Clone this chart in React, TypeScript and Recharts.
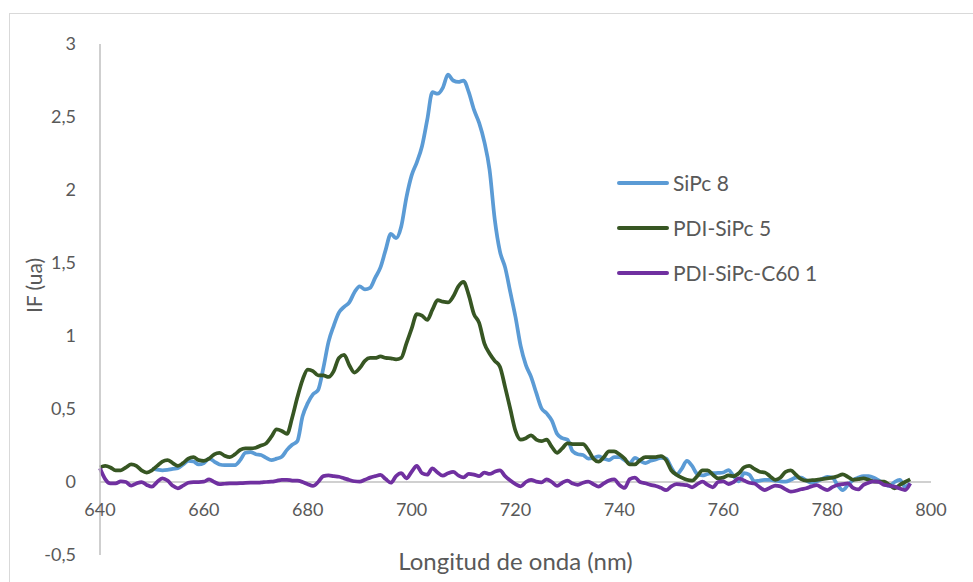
import React from "react";
import {
  LineChart,
  Line,
  XAxis,
  YAxis,
  ReferenceLine,
  Label,
} from "recharts";

const wavelengths = Array.from({ length: 157 }, (_, i) => 640 + i);

// SiPc 8 (starts at 650 nm)
const sipc8: (number | null)[] = [
  null, null, null, null, null, null, null, null, null, null,
  0.09, 0.085, 0.08, 0.083, 0.09, 0.094, 0.12, 0.145, 0.14, 0.12,
  0.13, 0.16, 0.14, 0.12, 0.115, 0.115, 0.116, 0.15, 0.2, 0.205,
  0.19, 0.185, 0.165, 0.15, 0.16, 0.173, 0.22, 0.255, 0.28, 0.45,
  0.54, 0.6, 0.63, 0.78, 0.96, 1.07, 1.16, 1.2, 1.23, 1.3,
  1.34, 1.32, 1.33, 1.4, 1.47, 1.59, 1.7, 1.67, 1.75, 1.95,
  2.1, 2.19, 2.3, 2.48, 2.67, 2.66, 2.7, 2.79, 2.75, 2.74,
  2.75, 2.67, 2.55, 2.46, 2.33, 2.14, 1.8, 1.58, 1.47, 1.3,
  1.13, 0.93, 0.8, 0.72, 0.61, 0.505, 0.47, 0.42, 0.33, 0.3,
  0.29, 0.21, 0.19, 0.185, 0.16, 0.165, 0.175, 0.16, 0.15, 0.17,
  0.17, 0.15, 0.13, 0.165, 0.145, 0.13, 0.145, 0.155, 0.165, 0.16,
  0.1, 0.05, 0.09, 0.145, 0.11, 0.055, 0.045, 0.055, 0.06, 0.062,
  0.065, 0.082, 0.04, 0.005, 0.06, 0.05, 0.005, 0.01, 0.014, 0.014,
  0.01, 0.005, 0.003, 0.015, 0.03, 0.03, 0.01, -0.005, 0.005, 0.02,
  0.035, 0.03, -0.02, -0.055, -0.02, 0.014, 0.03, 0.04, 0.04, 0.03,
  0.01, -0.01, -0.027, 0.0, 0.014, -0.032, -0.01,
];

// PDI-SiPc 5
const pdiSipc5: number[] = [
  0.1, 0.11, 0.1, 0.08, 0.08, 0.1, 0.12, 0.11, 0.08, 0.065,
  0.08, 0.11, 0.14, 0.15, 0.13, 0.11, 0.13, 0.16, 0.17, 0.15,
  0.145, 0.16, 0.19, 0.2, 0.18, 0.17, 0.19, 0.22, 0.23, 0.23,
  0.235, 0.25, 0.265, 0.31, 0.36, 0.35, 0.33, 0.44, 0.58, 0.7,
  0.77, 0.76, 0.73, 0.73, 0.72, 0.76, 0.85, 0.87, 0.8, 0.75,
  0.78, 0.83, 0.85, 0.85, 0.86, 0.85, 0.847, 0.84, 0.85, 0.95,
  1.05, 1.15, 1.14, 1.11, 1.18, 1.245, 1.235, 1.23, 1.27, 1.34,
  1.37, 1.28, 1.15, 1.09, 0.95, 0.88, 0.83, 0.79, 0.65, 0.5,
  0.35, 0.29, 0.3, 0.32, 0.29, 0.28, 0.29, 0.24, 0.2, 0.23,
  0.265, 0.26, 0.26, 0.26, 0.22, 0.16, 0.14, 0.17, 0.21, 0.21,
  0.19, 0.16, 0.12, 0.12, 0.15, 0.17, 0.17, 0.17, 0.178, 0.15,
  0.08, 0.05, 0.03, 0.015, 0.009, 0.04, 0.08, 0.08, 0.05, 0.025,
  0.03, 0.045, 0.04, 0.06, 0.1, 0.11, 0.09, 0.07, 0.065, 0.04,
  0.015, 0.03, 0.07, 0.08, 0.05, 0.02, 0.01, 0.012, 0.015, 0.02,
  0.025, 0.03, 0.04, 0.053, 0.035, 0.015, 0.02, 0.025, 0.015, 0.003,
  0.003, 0.002, -0.02, -0.043, -0.02, 0.0, 0.018,
];

// PDI-SiPc-C60 1
const pdiSipcC60: number[] = [
  0.094, 0.02, -0.01, -0.01, 0.005, 0.0, -0.025, -0.01, 0.0, -0.02,
  -0.032, 0.0, 0.025, 0.01, -0.025, -0.043, -0.025, -0.005, 0.0, 0.0,
  0.002, 0.018, 0.0, -0.014, -0.012, -0.01, -0.009, -0.008, -0.006, -0.005,
  -0.005, -0.003, 0.0, 0.002, 0.008, 0.015, 0.015, 0.01, 0.009, 0.0,
  -0.015, -0.027, 0.0, 0.04, 0.045, 0.04, 0.036, 0.025, 0.014, 0.005,
  0.002, 0.015, 0.03, 0.04, 0.048, 0.02, -0.005, 0.04, 0.06, 0.025,
  0.07, 0.11, 0.06, 0.05, 0.094, 0.065, 0.043, 0.06, 0.07, 0.045,
  0.032, 0.055, 0.05, 0.04, 0.065, 0.055, 0.07, 0.08, 0.04, 0.01,
  -0.015, -0.03, 0.0, 0.014, 0.003, -0.002, 0.018, 0.0, -0.027, -0.005,
  0.009, -0.01, -0.02, -0.005, 0.002, -0.015, -0.032, -0.01, 0.01, 0.018,
  -0.02, -0.04, 0.02, 0.03, 0.0, -0.009, -0.02, -0.027, -0.04, -0.055,
  -0.03, -0.014, -0.018, -0.021, -0.036, -0.015, 0.002, -0.02, -0.036, 0.0,
  0.005, -0.014, 0.0, 0.025, 0.01, -0.005, -0.01, -0.035, -0.055, -0.04,
  -0.025, -0.03, -0.05, -0.066, -0.06, -0.05, -0.043, -0.03, -0.021, -0.04,
  -0.055, -0.035, -0.021, -0.015, -0.009, -0.04, -0.05, -0.02, -0.005, 0.005,
  0.0, -0.02, -0.025, -0.032, -0.045, -0.055, -0.009,
];

const xTicks = [640, 660, 680, 700, 720, 740, 760, 780, 800];
const yTicks = [-0.5, 0, 0.5, 1, 1.5, 2, 2.5, 3];

const series = [
  { key: "sipc8", name: "SiPc 8", color: "#5b9bd5" },
  { key: "pdiSipc5", name: "PDI-SiPc 5", color: "#375623" },
  { key: "pdiSipcC60", name: "PDI-SiPc-C60 1", color: "#7030a0" },
];

const data = wavelengths.map((w, i) => ({
  w,
  sipc8: sipc8[i],
  pdiSipc5: pdiSipc5[i],
  pdiSipcC60: pdiSipcC60[i],
}));

const font = "Lato, 'Open Sans', sans-serif";
const textColor = "#595959";

const XTick = (props: any) => {
  const { x, y, payload } = props;
  return (
    <text x={x} y={y - 47} textAnchor="middle" fill={textColor} fontSize={18} fontFamily={font}>
      {payload.value}
    </text>
  );
};

// rotated y title, a bit above the plot's middle like the original
const YTitle = (props: any) => {
  const { viewBox } = props;
  const cx = viewBox.x - 7;
  const cy = viewBox.y + viewBox.height / 2 - 14;
  return (
    <text
      x={cx}
      y={cy}
      transform={`rotate(-90, ${cx}, ${cy})`}
      textAnchor="middle"
      dominantBaseline="central"
      fill={textColor}
      fontSize={21}
      fontFamily={font}
    >
      IF (ua)
    </text>
  );
};

export default function App() {
  return (
    <div
      style={{
        position: "absolute",
        left: 0,
        top: 0,
        width: 973,
        height: 582,
        overflow: "hidden",
        background: "#fff",
      }}
    >
      <div
        style={{
          position: "absolute",
          left: 9,
          top: 13,
          width: 1000,
          height: 620,
          border: "1px solid #d9d9d9",
        }}
      />
      <LineChart
        width={973}
        height={582}
        data={data}
        margin={{ top: 44, right: 42, bottom: 7, left: 40 }}
      >
        <XAxis
          dataKey="w"
          type="number"
          domain={[640, 800]}
          ticks={xTicks}
          axisLine={false}
          tickLine={false}
          height={20}
          tick={<XTick />}
        >
          <Label
            value="Longitud de onda (nm)"
            position="insideBottom"
            offset={5}
            style={{ fontFamily: font, fontSize: 24, fill: textColor }}
          />
        </XAxis>
        <YAxis
          type="number"
          domain={[-0.5, 3]}
          ticks={yTicks}
          width={60}
          axisLine={{ stroke: "#bfbfbf", strokeWidth: 1.5 }}
          tickLine={false}
          tickMargin={18}
          tick={{ fontFamily: font, fontSize: 18, fill: textColor }}
          tickFormatter={(v: number) => String(v).replace(".", ",")}
        >
          <Label content={<YTitle />} />
        </YAxis>
        <ReferenceLine y={0} stroke="#d0d0d0" strokeWidth={2} />
        {series.map((s) => (
          <Line
            key={s.key}
            type="monotone"
            dataKey={s.key}
            name={s.name}
            stroke={s.color}
            strokeWidth={3.75}
            dot={false}
            isAnimationActive={false}
          />
        ))}
      </LineChart>
      <div
        style={{
          position: "absolute",
          left: 617,
          top: 160,
          fontFamily: font,
          fontSize: 21,
          color: textColor,
        }}
      >
        {series.map((s) => (
          <div key={s.key} style={{ display: "flex", alignItems: "center", height: 45 }}>
            <div style={{ width: 52, height: 4, background: s.color, borderRadius: 2, marginRight: 4 }} />
            <span>{s.name}</span>
          </div>
        ))}
      </div>
    </div>
  );
}
